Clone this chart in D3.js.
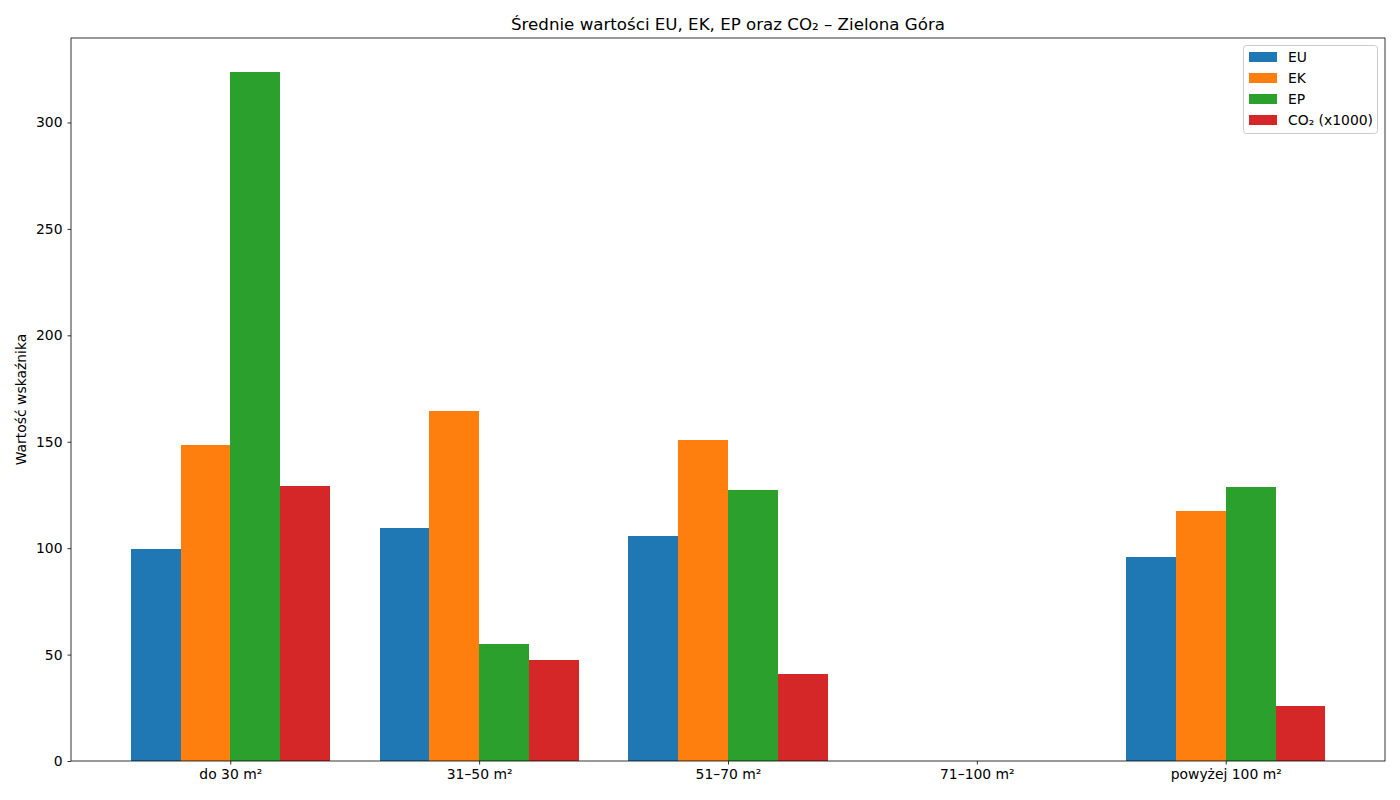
<!DOCTYPE html>
<html><head><meta charset="utf-8">
<script src="https://cdn.jsdelivr.net/npm/d3@7"></script>
<style>
body{margin:0;background:#fff;}
svg{display:block;font-family:"DejaVu Sans",sans-serif;}
</style></head>
<body>
<svg id="chart" width="1400" height="800"></svg>
<script>
const categories = ["do 30 m²", "31–50 m²", "51–70 m²", "71–100 m²", "powyżej 100 m²"];
const seriesNames = ["EU", "EK", "EP", "CO₂ (x1000)"];
const seriesColors = ["#1f77b4", "#ff7f0e", "#2ca02c", "#d62728"];
const EU = [99.7, 109.6, 105.8, 0, 95.9];
const EK = [148.6, 164.6, 150.9, 0, 117.6];
const EP = [323.5, 55.0, 127.4, 0, 128.8];
const CO2 = [129.3, 47.5, 40.9, 0, 25.9];
const yTicks = [0, 50, 100, 150, 200, 250, 300];
const series = [EU, EK, EP, CO2];

const svg = d3.select("#chart");
const L = 71, R = 1385, T = 38, B = 761;
const barW = 0.2;
const x = d3.scaleLinear().domain([-0.64, 4.64]).range([L, R]);
const y = d3.scaleLinear().domain([0, 339.7]).range([B, T]);

// bars
series.forEach((vals, si) => {
  svg.append("g").attr("shape-rendering", "crispEdges").selectAll("rect").data(vals).join("rect")
    .attr("x", (d, i) => x(i + (si - 2) * barW))
    .attr("width", (d, i) => x(i + (si - 1) * barW) - x(i + (si - 2) * barW))
    .attr("y", d => y(d))
    .attr("height", d => y(0) - y(d))
    .attr("fill", seriesColors[si]);
});

// axes
const xAxis = d3.axisBottom(x).tickValues(d3.range(categories.length))
  .tickFormat(i => categories[i]).tickSize(3.5).tickPadding(5);
const gx = svg.append("g").attr("transform", `translate(0,${B})`).call(xAxis);
const yAxis = d3.axisLeft(y).tickValues(yTicks).tickSize(3.5).tickPadding(5);
const gy = svg.append("g").attr("transform", `translate(${L},0)`).call(yAxis);
[gx, gy].forEach(g => {
  g.select(".domain").remove();
  g.selectAll("text").attr("font-size", "13.9px").attr("fill", "#000").attr("font-family", "DejaVu Sans");
  g.selectAll("line").attr("stroke", "#000").attr("stroke-width", 0.8);
});

// frame
svg.append("rect").attr("x", L).attr("y", T).attr("width", R - L).attr("height", B - T)
  .attr("fill", "none").attr("stroke", "#000").attr("stroke-width", 0.8);

// title
svg.append("text").attr("x", (L + R) / 2).attr("y", 30).attr("text-anchor", "middle")
  .attr("font-size", "16.67px").text("Średnie wartości EU, EK, EP oraz CO₂ – Zielona Góra");

// y label
svg.append("text").attr("transform", `translate(26,${(T + B) / 2}) rotate(-90)`)
  .attr("text-anchor", "middle").attr("font-size", "13.9px").text("Wartość wskaźnika");

// legend
const lg = svg.append("g");
lg.append("rect").attr("x", 1243.5).attr("y", 45.5).attr("width", 134).attr("height", 88)
  .attr("rx", 3).attr("fill", "#fff").attr("fill-opacity", 0.8).attr("stroke", "#ccc").attr("stroke-width", 1);
seriesNames.forEach((n, i) => {
  const cy = 57 + i * 21;
  lg.append("rect").attr("x", 1249).attr("y", cy - 5).attr("width", 28).attr("height", 10).attr("fill", seriesColors[i]);
  lg.append("text").attr("x", 1288).attr("y", cy + 5).attr("font-size", "13.9px").text(n);
});
</script>
</body></html>
